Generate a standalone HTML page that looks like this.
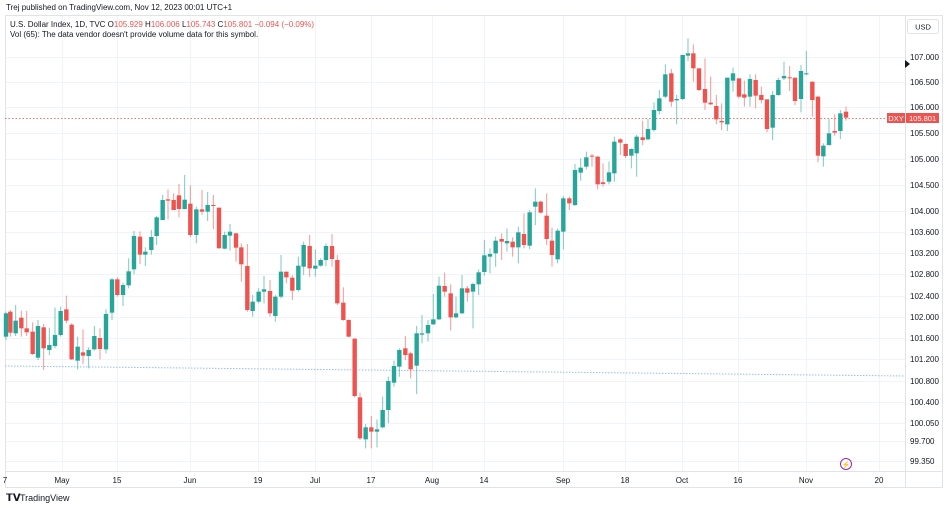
<!DOCTYPE html>
<html><head><meta charset="utf-8"><style>
html,body{margin:0;padding:0;background:#fff;}
body{width:948px;height:509px;overflow:hidden;font-family:"Liberation Sans",sans-serif;}
</style></head><body>
<svg id="s" width="948" height="509" xmlns="http://www.w3.org/2000/svg" font-family="Liberation Sans, sans-serif">
<rect width="948" height="509" fill="#fff"/>
<g id="grid" stroke="#f0f3fa" stroke-width="1"></g>
<rect x="5.5" y="15.5" width="937" height="472" fill="none" stroke="#e0e3eb"/>
<line x1="905.5" y1="15" x2="905.5" y2="488" stroke="#e0e3eb"/>
<line x1="5" y1="471.5" x2="943" y2="471.5" stroke="#e0e3eb"/>
<line x1="5" y1="366" x2="905" y2="376" stroke="#90bff9" stroke-width="1" stroke-dasharray="1.5,1.5"/>
<line x1="5" y1="118.5" x2="905" y2="118.5" stroke="#ef5350" stroke-width="1" stroke-dasharray="1.5,2" opacity="0.8"/>
<g id="c"></g>
<g id="pl" font-size="8" fill="#131722"></g>
<g id="tl" font-size="8" fill="#131722" text-anchor="middle"></g>
<rect x="907.5" y="19.5" width="31" height="14" rx="2" fill="#fff" stroke="#e0e3eb"/>
<text x="923" y="29.5" font-size="7.5" text-anchor="middle" fill="#131722">USD</text>
<polygon points="905,60 910,64 905,68" fill="#131722"/>
<rect x="887" y="113" width="18" height="10" fill="#ef5350"/>
<text x="896" y="121" font-size="7.5" fill="#fff" text-anchor="middle">DXY</text>
<rect x="906" y="113" width="33" height="10" fill="#ef5350"/>
<text x="909" y="121" font-size="7.5" fill="#fff">105.801</text>
<text x="6" y="10" font-size="8" fill="#131722">Trej published on TradingView.com, Nov 12, 2023 00:01 UTC+1</text>
<text x="10" y="27" font-size="8" fill="#131722">U.S. Dollar Index, 1D, TVC  O<tspan fill="#ef5350">105.929</tspan> H<tspan fill="#ef5350">106.006</tspan> L<tspan fill="#ef5350">105.743</tspan> C<tspan fill="#ef5350">105.801</tspan> <tspan fill="#ef5350">−0.094 (−0.09%)</tspan></text>
<text x="10" y="37" font-size="8" fill="#131722">Vol (65): The data vendor doesn't provide volume data for this symbol.</text>
<circle cx="846" cy="464" r="5.5" fill="#fff" stroke="#9c27b0" stroke-width="1"/>
<text x="846" y="467" font-size="7" fill="#9c27b0" text-anchor="middle">⚡</text>
<text x="6" y="501" font-size="10" font-weight="bold" fill="#131722">𝗧𝗩</text>
<text x="20" y="501" font-size="9" fill="#131722">TradingView</text>
</svg>
<script>
var NS="http://www.w3.org/2000/svg";
function el(p,t,a){var e=document.createElementNS(NS,t);for(var k in a)e.setAttribute(k,a[k]);p.appendChild(e);return e;}
var grid=document.getElementById('grid'),pl=document.getElementById('pl'),tl=document.getElementById('tl');
var P=[["107.000",57],["106.500",82],["106.000",107],["105.500",133],["105.000",159],["104.500",185],["104.000",211],["103.600",232],["103.200",253],["102.800",274],["102.400",296],["102.000",317],["101.600",338],["101.200",359],["100.800",381],["100.400",402],["100.050",423],["99.700",441],["99.350",461]];
P.forEach(function(p){el(grid,'line',{x1:5,x2:905,y1:p[1]+.5,y2:p[1]+.5});if(p[1]<112||p[1]>125){var t=el(pl,'text',{x:910,y:p[1]+3});t.textContent=p[0];}});
var T=[["7",5],["May",62],["15",117],["Jun",190],["19",258],["Jul",315],["17",371],["Aug",432],["14",484],["Sep",563],["18",625],["Oct",682],["16",738],["Nov",806],["20",879]];
T.forEach(function(t){el(grid,'line',{x1:t[1]+.5,x2:t[1]+.5,y1:15,y2:471});var e=el(tl,'text',{x:t[1],y:483});e.textContent=t[0];});
var S=[
[0,160,[[18,460,530,455,540,'g'],[31,455,518,450,530,'r'],[47,482,520,435,528,'g'],[64,473,505,452,530,'r'],[80,505,517,453,528,'r'],[98,515,582,487,585,'r'],[114,498,593,480,600,'g'],[131,502,565,492,630,'r'],[148,555,570,503,585,'g'],[165,525,558,443,565,'g'],[182,453,525,440,530,'g'],[199,448,482,407,490,'r'],[215,494,598,490,600,'r'],[233,560,602,530,628,'g'],[249,577,587,508,612,'r'],[266,570,588,562,625,'g'],[283,528,568,498,572,'g'],[300,534,567,505,598,'r'],[318,462,568,448,580,'g'],[336,358,458,355,480,'g'],[352,358,405,352,410,'r'],[369,375,405,368,438,'g'],[386,334,376,295,385,'g'],[402,228,328,213,343,'g'],[420,230,284,214,312,'r'],[436,275,284,262,318,'g'],[454,231,270,210,284,'g'],[470,172,228,168,255,'g'],[488,120,180,105,180,'g'],[504,118,122,88,178,'r'],[521,120,150,100,150,'r'],[537,106,147,72,172,'r'],[554,119,147,45,148,'g'],[571,131,225,76,232,'r'],[589,148,225,140,250,'g'],[606,148,155,90,165,'r'],[623,135,155,96,183,'g'],[640,135,138,105,207,'r'],[657,143,265,143,265,'r'],[674,225,266,215,268,'g']]],
[220,220,[[30,35,47,12,92,'g'],[48,40,83,38,125,'r'],[64,82,133,70,185,'r'],[82,138,270,72,275,'r'],[98,245,273,225,290,'g'],[116,215,245,205,250,'g'],[132,208,215,168,250,'g'],[150,213,280,180,290,'r'],[166,230,288,225,305,'g'],[183,155,230,105,235,'g'],[199,155,172,155,190,'r'],[217,173,212,165,240,'r'],[235,137,210,110,215,'g'],[251,75,140,65,165,'g'],[269,78,145,45,170,'r'],[286,137,146,88,170,'g'],[302,120,137,115,140,'g'],[318,78,120,70,138,'g'],[336,78,117,42,140,'r'],[352,120,250,105,255,'r'],[370,248,300,202,302,'r'],[386,300,350,298,352,'r'],[404,356,528,355,532,'r'],[420,532,655,518,660,'r'],[437,622,658,612,685,'g'],[454,622,635,588,685,'r'],[471,628,635,598,682,'g'],[488,570,622,530,625,'g'],[505,483,570,470,610,'g'],[522,438,488,422,500,'g'],[538,390,440,385,470,'g'],[556,385,405,348,420,'r'],[572,400,448,395,475,'r'],[590,340,437,318,522,'g'],[606,340,344,285,370,'g'],[624,315,340,300,365,'g'],[640,298,313,222,315,'g'],[657,197,298,170,300,'g']]],
[440,130,[[14,468,485,428,500,'r'],[32,490,562,463,602,'r'],[48,550,562,500,565,'g'],[66,475,550,435,552,'g'],[82,475,488,468,515,'r'],[99,462,485,458,595,'g'],[116,427,463,418,495,'g'],[133,376,426,330,437,'g'],[150,372,380,355,430,'g'],[167,332,370,320,410,'g'],[185,327,335,310,390,'r'],[201,333,340,295,365,'g'],[218,335,352,322,380,'r'],[235,307,352,290,400,'g'],[252,312,345,250,355,'r'],[269,247,347,240,357,'g'],[286,215,230,175,285,'g'],[302,215,248,212,250,'r'],[320,257,327,190,345,'r'],[336,332,375,293,410,'r'],[353,302,388,295,400,'g'],[370,205,305,198,358,'g'],[388,205,220,200,240,'r'],[405,120,225,102,228,'g'],[422,113,128,85,152,'g'],[439,82,110,65,118,'g'],[456,77,80,72,110,'r'],[473,80,163,78,178,'r'],[489,157,162,100,170,'r'],[507,127,155,95,163,'g'],[523,35,130,20,155,'g'],[541,28,38,25,75,'r'],[557,42,78,40,85,'r'],[574,57,77,55,115,'g'],[590,20,70,15,140,'g']]],
[640,35,[[8,307,315,258,330,'r'],[24,282,313,252,316,'g'],[42,225,285,202,290,'g'],[58,190,228,165,238,'g'],[76,118,185,88,190,'g'],[94,115,200,102,215,'r'],[110,192,196,180,268,'g'],[128,60,192,60,195,'g'],[144,55,62,10,78,'g'],[160,55,100,28,140,'r'],[177,100,165,100,168,'r'],[195,162,203,70,225,'r'],[212,203,208,125,210,'r'],[229,213,253,180,268,'r'],[245,258,262,205,285,'r'],[262,128,268,128,288,'g'],[279,115,137,98,170,'g'],[297,130,185,130,190,'r'],[313,178,188,137,215,'r'],[330,132,185,118,215,'g'],[347,135,182,118,220,'r'],[364,180,195,155,205,'r'],[381,193,282,193,292,'r'],[398,180,278,168,315,'g'],[415,135,180,128,182,'g'],[432,123,130,80,135,'g'],[449,127,130,93,168,'r'],[465,128,198,128,210,'r'],[483,108,192,90,232,'g'],[499,115,117,48,120,'g'],[517,140,195,140,245,'r'],[534,185,362,182,382,'r'],[550,332,364,325,395,'g'],[567,295,330,252,332,'g'],[584,288,293,238,302,'r'],[601,235,288,225,312,'g'],[618,230,248,215,257,'r']]]
];
var cg=document.getElementById('c');
S.forEach(function(s){var ox=s[0],oy=s[1];s[2].forEach(function(d){
 var x=ox+d[0]/3,col=d[5]=='g'?'#26a69a':'#ef5350';
 var bt=oy+d[1]/3,bb=oy+d[2]/3,wt=oy+d[3]/3,wb=oy+d[4]/3;
 el(cg,'line',{x1:x,x2:x,y1:wt,y2:wb,stroke:col,'stroke-width':1,opacity:0.6});
 el(cg,'rect',{x:x-2.2,y:bt,width:4.4,height:Math.max(1,bb-bt),fill:col});
});});
</script>
</body></html>
